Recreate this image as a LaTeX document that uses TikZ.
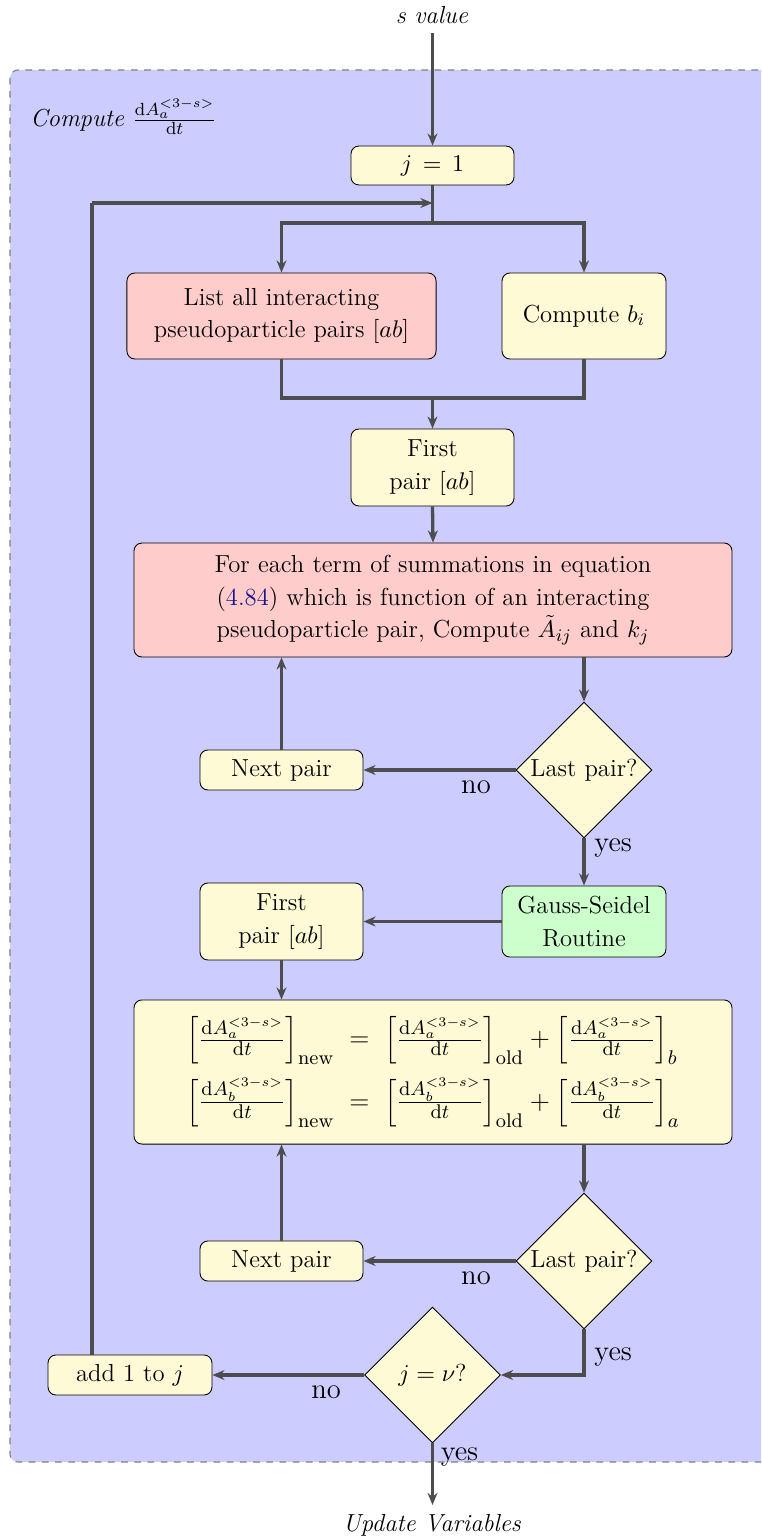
\documentclass[tikz,border=0pt]{standalone}
\usepackage{amsmath}
\usetikzlibrary{shapes.geometric,arrows.meta}
\definecolor{boxyellow}{RGB}{255,250,214}
\definecolor{boxred}{RGB}{255,204,204}
\definecolor{boxgreen}{RGB}{204,255,204}
\definecolor{panelblue}{RGB}{204,204,255}
\definecolor{linegray}{RGB}{77,77,77}
\definecolor{refblue}{RGB}{20,20,140}
\newcommand{\dAdt}[1]{\frac{\mathrm{d}A_{#1}^{<3-s>}}{\mathrm{d}t}}
\newcommand{\boxfont}{\fontsize{11.2}{13.4}\selectfont}
\tikzset{
  every node/.style={font=\boxfont},
  block/.style={draw=black, rounded corners=3.6pt, line width=0.4pt, align=center, inner sep=2pt},
  ybox/.style={block, fill=boxyellow},
  rbox/.style={block, fill=boxred},
  gbox/.style={block, fill=boxgreen},
  decision/.style={diamond, draw=black, fill=boxyellow, line width=0.4pt, inner sep=0pt,
                   minimum width=61.8pt, minimum height=61.8pt, align=center},
  flow/.style={draw=linegray, line width=1.5pt, -{Stealth[length=5.5pt,width=4.5pt,inset=1.8pt]}},
  link/.style={draw=linegray, line width=1.5pt},
  tag/.style={font=\fontsize{13}{15}\selectfont, inner sep=1pt},
}
\begin{document}
\begin{tikzpicture}[x=0.4545pt, y=-0.4545pt]
\useasboundingbox (0,0) rectangle (761,1540);
\clip (0,0) rectangle (761,1540);

% background panel
\draw[fill=panelblue, draw=gray, dashed, line width=0.5pt, rounded corners=3.6pt]
  (10,70) rectangle (790,1462);
\node[anchor=west, inner sep=0pt] (title) at (30,117)
  {\textit{Compute} $\dAdt{a}$};

% nodes
\node[inner sep=1pt] (svalue) at (432,15) {\textit{s value}};
\node[ybox, minimum width=74.1pt, minimum height=17.7pt] (j1) at (432.5,165.5) {$j\,=\,1$};
\node[rbox, minimum width=140.5pt, minimum height=39.1pt] (list) at (281.5,316)
  {List all interacting\\[1.5pt] pseudoparticle pairs $[ab]$};
\node[ybox, minimum width=74.5pt, minimum height=39.1pt] (bi) at (584,316) {Compute $b_i$};
\node[ybox, minimum width=74.1pt, minimum height=35pt] (first1) at (432.5,467.5)
  {First\\[1.5pt] pair $[ab]$};
\node[rbox, minimum width=271.8pt, minimum height=51.8pt, text width=262pt] (terms) at (433,600)
  {For each term of summations in equation\\[1.5pt]
   (\textcolor{refblue}{4.84}) which is function of an interacting\\[1.5pt]
   pseudoparticle pair, Compute $\tilde{A}_{ij}$ and $k_j$};
\node[decision] (last1) at (584,770) {Last pair?};
\node[ybox, minimum width=74.1pt, minimum height=18.2pt] (next1) at (281.5,770) {Next pair};
\node[gbox, minimum width=74.5pt, minimum height=32.3pt] (gauss) at (584,921.5)
  {Gauss-Seidel\\[1.5pt] Routine};
\node[ybox, minimum width=74.1pt, minimum height=35pt] (first2) at (281.5,921.5)
  {First\\[1.5pt] pair $[ab]$};
\node[ybox, minimum width=271.8pt, minimum height=65.5pt, font=\fontsize{12.4}{14.8}\selectfont] (update) at (433,1072)
  {$\begin{array}{r@{\;\;=\;\;}l}
    \left[\dAdt{a}\right]_{\mathrm{new}} & \left[\dAdt{a}\right]_{\mathrm{old}} + \left[\dAdt{a}\right]_{b}\\[10pt]
    \left[\dAdt{b}\right]_{\mathrm{new}} & \left[\dAdt{b}\right]_{\mathrm{old}} + \left[\dAdt{b}\right]_{a}
   \end{array}$};
\node[decision] (last2) at (584,1261) {Last pair?};
\node[ybox, minimum width=74.1pt, minimum height=18.2pt] (next2) at (281.5,1261) {Next pair};
\node[decision] (jnu) at (432.5,1375) {$j=\nu$?};
\node[ybox, minimum width=74.5pt, minimum height=18.2pt] (add) at (130,1375) {add 1 to $j$};
\node[inner sep=1pt] (updvars) at (432,1525) {\textit{Update Variables}};

% junction points
\coordinate (split) at (432.5,223);
\coordinate (merge) at (432.5,398);
\coordinate (loopin) at (432.5,203);
\coordinate (loopcorner) at (92,203);
\coordinate (outend) at (432.5,1505);

% connectors
\draw[flow] (432.5,33) -- (j1.north);
\draw[link] (j1.south) -- (split);
\draw[flow] (split) -| (list.north);
\draw[flow] (split) -| (bi.north);
\draw[link] (list.south) |- (merge) -| (bi.south);
\draw[flow] (merge) -- (first1.north);
\draw[flow] (first1.south) -- (terms.north);
\draw[flow] (terms.south -| last1.north) -- (last1.north);
\draw[flow] (last1.west) -- node[tag, below, pos=0.26, yshift=-3pt] {no} (next1.east);
\draw[flow] (next1.north) -- (next1.north |- terms.south);
\draw[flow] (last1.south) -- node[tag, right, pos=0.2, xshift=3pt] {yes} (gauss.north);
\draw[flow] (gauss.west) -- (first2.east);
\draw[flow] (first2.south) -- (update.north -| first2.south);
\draw[flow] (update.south -| last2.north) -- (last2.north);
\draw[flow] (last2.west) -- node[tag, below, pos=0.26, yshift=-3pt] {no} (next2.east);
\draw[flow] (next2.north) -- (next2.north |- update.south);
\draw[flow] (last2.south) |- node[tag, right, pos=0.3, xshift=3pt] {yes} (jnu.east);
\draw[flow] (jnu.west) -- node[tag, below, pos=0.25, yshift=-3pt] {no} (add.east);
\draw[link] (add.north -| loopcorner) -- (loopcorner);
\draw[flow] (loopcorner) -- (loopin);
\draw[flow] (jnu.south) -- node[tag, right, pos=0.22, xshift=2pt] {yes} (outend);
\end{tikzpicture}
\end{document}
